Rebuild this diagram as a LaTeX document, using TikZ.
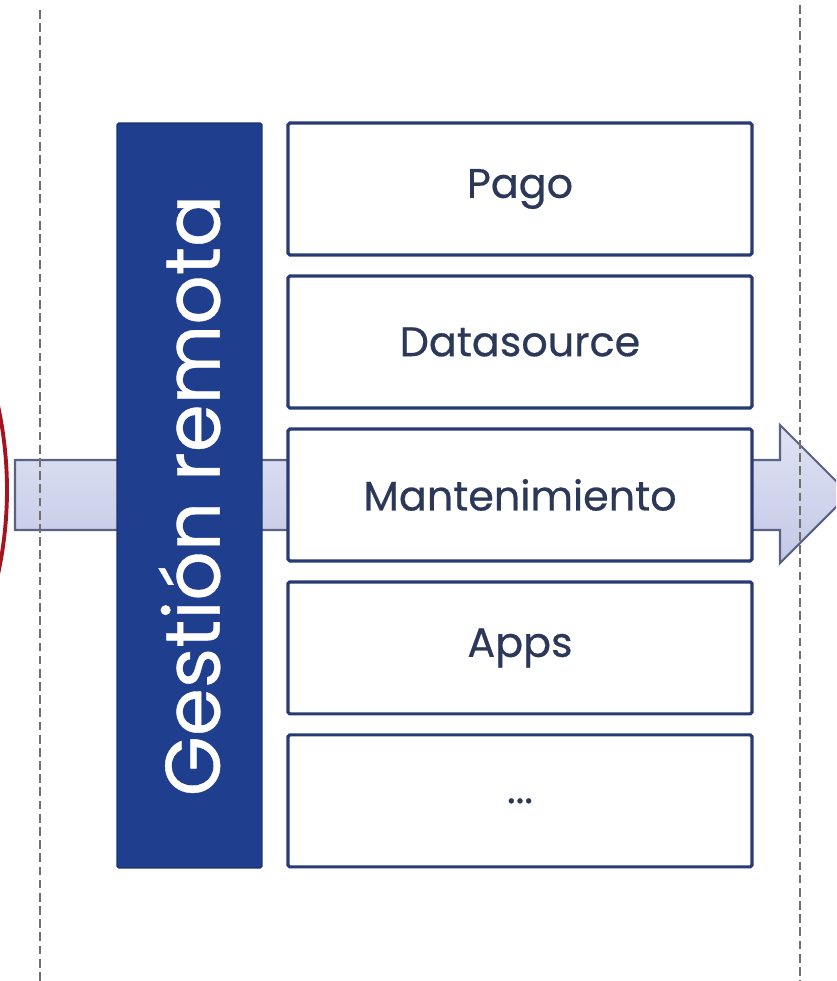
\documentclass[tikz,border=0pt]{standalone}
\usepackage{fontspec}
\setmainfont{Poppins}[FakeBold=0.5]
\usetikzlibrary{positioning}

\definecolor{gestfill}{HTML}{1F3F8E}
\definecolor{gestline}{HTML}{1A3370}
\definecolor{boxline}{HTML}{283A72}
\definecolor{boxtext}{HTML}{2B3858}
\definecolor{arrowline}{HTML}{5B6385}
\definecolor{arrowtop}{HTML}{E0E3F3}
\definecolor{arrowbot}{HTML}{C3C8E6}
\definecolor{sepgray}{HTML}{707070}
\definecolor{arcred}{HTML}{A3141E}

\begin{document}
\begin{tikzpicture}[x=0.02cm, y=-0.02cm,
    modbox/.style={draw=boxline, line width=1.8pt, rounded corners=1pt, fill=white,
        minimum width=9.28cm, minimum height=2.64cm, outer sep=0pt, text=boxtext,
        font=\fontsize{23.5}{28}\selectfont},
    gestbox/.style={draw=gestline, line width=0.8pt, rounded corners=1pt, fill=gestfill,
        rotate=90, minimum width=14.9cm, minimum height=2.9cm, text=white,
        font=\fontsize{44}{50}\selectfont},
    sepline/.style={draw=sepgray, line width=1.2pt, dash pattern=on 5pt off 2.5pt}]
    \useasboundingbox (0,0) rectangle (836,981);
    \clip (0,0) rectangle (836,981);

    % Outer arc on the left
    \draw[arcred, line width=2.2pt] (-393,490) ++(-14:400) arc (-14:14:400);

    % Big flow arrow
    \draw[arrowline, line width=1.2pt, top color=arrowtop, bottom color=arrowbot]
        (15,460) -- (780,460) -- (780,425) -- (849,494) -- (780,563) -- (780,530) -- (15,530) -- cycle;

    % Separators
    \draw[sepline] (40,10) -- (40,981);
    \draw[sepline] (800,5) -- (800,981);

    % Remote management block
    \node[gestbox] (Gestion) at (189.5,495.5) {Gestión remota};

    % Modules
    \node[modbox] (Pago) at (520,189) {Pago};
    \node[modbox, below=0.42cm of Pago] (Datasource) {Datasource};
    \node[modbox, below=0.42cm of Datasource] (Mant) {Mantenimiento};
    \node[modbox, below=0.42cm of Mant] (Apps) {Apps};
    \node[modbox, below=0.42cm of Apps] (Otros) {...};
\end{tikzpicture}
\end{document}
